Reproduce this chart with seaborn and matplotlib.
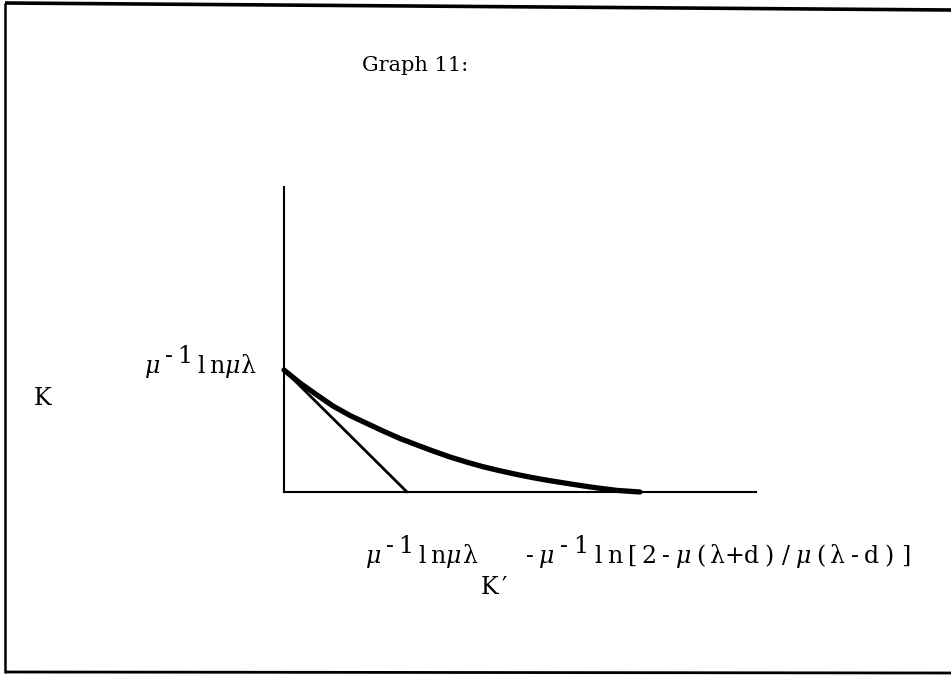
import matplotlib
matplotlib.use("Agg")
import matplotlib.pyplot as plt
import seaborn as sns
import pandas as pd
from matplotlib.lines import Line2D

# Hand-drawn curve K(K') and its tangent at K' = 0
k_prime = [0.0, 0.16, 0.33, 0.49, 0.66, 0.83, 0.99, 1.16, 1.33, 1.49, 1.66,
           1.83, 1.99, 2.16, 2.33, 2.49, 2.66, 2.83, 2.99, 3.16, 3.33, 3.56]
k_value = [1.22, 1.09, 0.97, 0.86, 0.765, 0.685, 0.61, 0.535, 0.47, 0.41, 0.35,
           0.298, 0.253, 0.212, 0.175, 0.143, 0.113, 0.086, 0.061, 0.037, 0.016, 0.0]
tangent_x = [0.0, 1.23]
tangent_y = [1.22, 0.0]

title_text = "Graph 11:"
y_axis_name = "K"
x_axis_name = "K\u2032"

W, H = 951, 675
sns.set_theme(style="white")
plt.rcParams["font.family"] = ["DejaVu Serif", "DejaVu Sans"]

fig = plt.figure(figsize=(W / 100, H / 100), dpi=100)
fig.patch.set_facecolor("white")


def fx(px):
    return px / W


def fy(py):
    return 1 - py / H


# Frame around the page
for (x0, y0, x1, y1, lw) in [(5, 3, 951, 10, 2.6), (5, 3, 5, 673, 1.8), (5, 672, 951, 673, 2.0)]:
    fig.add_artist(Line2D([fx(x0), fx(x1)], [fy(y0), fy(y1)], color="black",
                          lw=lw, transform=fig.transFigure, solid_capstyle="butt"))

ax = fig.add_axes([fx(284), fy(492), fx(756) - fx(284), (492 - 187) / H])
ax.set_facecolor("none")

curve = pd.DataFrame({"kp": k_prime, "k": k_value})
tang = pd.DataFrame({"kp": tangent_x, "k": tangent_y})
sns.lineplot(data=curve, x="kp", y="k", ax=ax, color="black", lw=3.8,
             sort=False, estimator=None, clip_on=False,
             solid_joinstyle="round", solid_capstyle="round")
sns.lineplot(data=tang, x="kp", y="k", ax=ax, color="black", lw=2.0,
             sort=False, estimator=None, clip_on=False)

ax.set_xlim(0, 4.72)
ax.set_ylim(0, 3.05)
ax.set_xticks([])
ax.set_yticks([])
ax.set_xlabel("")
ax.set_ylabel("")
for side in ["top", "right"]:
    ax.spines[side].set_visible(False)
for side in ["left", "bottom"]:
    ax.spines[side].set_color("black")
    ax.spines[side].set_linewidth(1.5)

SIZE = 17


def typed(x, y, pieces, adv, size=SIZE):
    """Typewriter-style text: every character sits in a fixed-width cell.
    Each piece is (text, rise_px)."""
    for s, rise in pieces:
        for ch in s:
            if ch != " ":
                style = "italic" if ch == "\u03bc" else "normal"
                fig.text(fx(x + adv / 2), fy(y - rise), ch, fontsize=size,
                         ha="center", va="baseline", color="black", style=style)
            x += adv


mu_label = [("\u03bc", 0), ("-1", 10), ("ln\u03bc\u03bb", 0)]
root_label = [("-\u03bc", 0), ("-1", 10), ("ln[2-\u03bc(\u03bb+d)/\u03bc(\u03bb-d)]", 0)]

fig.text(fx(362), fy(71), title_text, fontsize=15, ha="left", va="baseline",
         color="black")
typed(145, 373, mu_label, adv=16)
typed(34, 405, [(y_axis_name, 0)], adv=18)
typed(366, 563, mu_label, adv=16)
typed(483, 594, [(x_axis_name, 0)], adv=14)
typed(521, 563, root_label, adv=17.1)

fig.savefig("out.png", dpi=100, facecolor="white")
